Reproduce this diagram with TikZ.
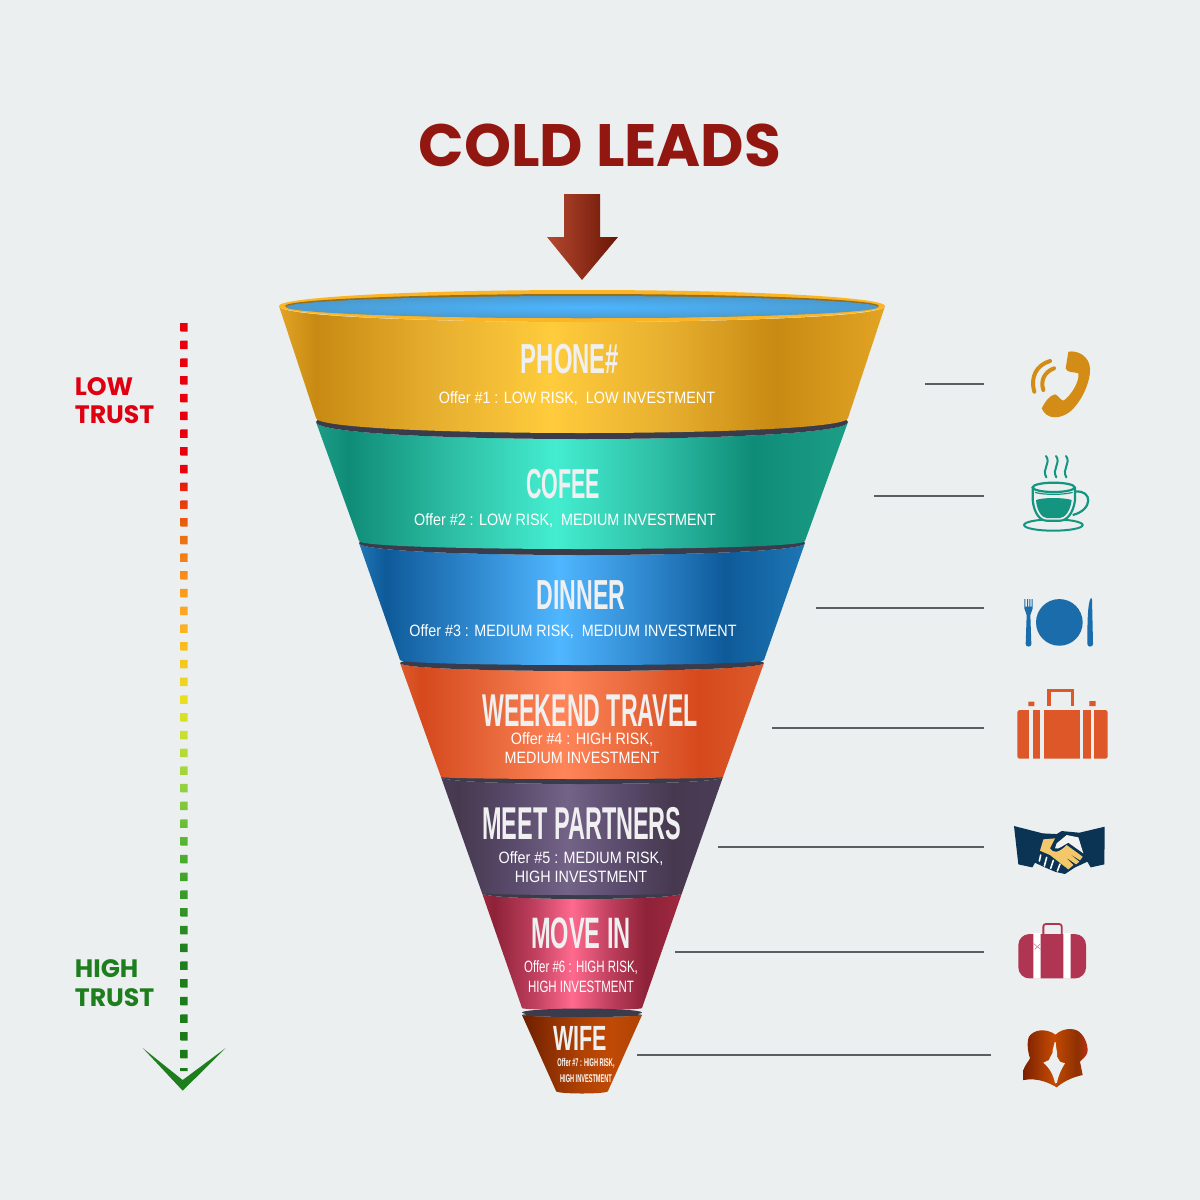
\documentclass[tikz,border=0pt]{standalone}
\usepackage{fontspec}
\setmainfont{Liberation Sans}
\newfontfamily\titlefont{Poppins}
\newfontfamily\headfont[FakeStretch=0.58]{Liberation Sans}
\newfontfamily\offerfont[FakeStretch=0.875]{Liberation Sans}
\newfontfamily\offernarrow[FakeStretch=0.7]{Liberation Sans}
\newfontfamily\offertiny[FakeStretch=0.5]{Liberation Sans}
\usetikzlibrary{positioning}
\definecolor{pagegray}{HTML}{EBEFEF}
\definecolor{coldred}{HTML}{921710}
\definecolor{arrowlight}{HTML}{B5482F}
\definecolor{arrowdark}{HTML}{6A1505}
\definecolor{ringdark}{HTML}{3B3C4B}
\definecolor{rimgold}{HTML}{FBB526}
\definecolor{lakelight}{HTML}{4DB5FF}
\definecolor{lakeedge}{HTML}{4A9BD0}
\definecolor{lowred}{HTML}{DE0010}
\definecolor{highgreen}{HTML}{1E7E1E}
\definecolor{leadgray}{HTML}{5A5D62}
\definecolor{icongold}{HTML}{D38D17}
\definecolor{iconteal}{HTML}{14957F}
\definecolor{iconblue}{HTML}{1A6CAB}
\definecolor{iconorange}{HTML}{DE5729}
\definecolor{iconnavy}{HTML}{0B3354}
\definecolor{iconyellow}{HTML}{F5C76B}
\definecolor{iconrose}{HTML}{B03552}
% Band shadings
\newcommand{\bandshade}[5]{%
  \definecolor{#1e}{HTML}{#2}\definecolor{#1d}{HTML}{#3}%
  \definecolor{#1m}{HTML}{#4}\definecolor{#1l}{HTML}{#5}%
  \pgfdeclarehorizontalshading{#1}{100bp}{color(0bp)=(#1e); color(25bp)=(#1e);
    color(28bp)=(#1d); color(38bp)=(#1m); color(47.5bp)=(#1l); color(57bp)=(#1m);
    color(66bp)=(#1d); color(75bp)=(#1e); color(100bp)=(#1e)}}
\bandshade{goldband}{E3A424}{C88A12}{E7AF2F}{FFCC3C}
\bandshade{tealband}{1C9E86}{0F8C78}{2EBFA6}{44EDCF}
\bandshade{blueband}{1E76B4}{0E5A99}{3089CF}{4FB6FF}
\bandshade{orangeband}{DD5A2B}{D5491D}{E8693C}{FF8559}
\bandshade{purpleband}{4A3C55}{46394F}{5A4B6C}{736387}
\bandshade{roseband}{9E2940}{8E2238}{BF3F5E}{FF6A8E}
\definecolor{cuA}{HTML}{6E1E00}\definecolor{cuB}{HTML}{8A2E02}
\definecolor{cuC}{HTML}{B04204}\definecolor{cuD}{HTML}{C04A05}
\pgfdeclarehorizontalshading{copperband}{100bp}{color(0bp)=(cuA); color(25bp)=(cuA);
  color(35bp)=(cuB); color(50bp)=(cuC); color(62bp)=(cuD); color(75bp)=(cuC); color(100bp)=(cuC)}
\definecolor{cpA}{HTML}{7A2000}\definecolor{cpB}{HTML}{C44A02}
\definecolor{cpC}{HTML}{8E3000}\definecolor{cpD}{HTML}{C0301A}
\pgfdeclarehorizontalshading{coupleshade}{100bp}{color(0bp)=(cpA); color(25bp)=(cpA);
  color(48bp)=(cpB); color(66bp)=(cpC); color(75bp)=(cpD); color(100bp)=(cpD)}
% Trust scale
\definecolor{trA}{HTML}{E8000E}\definecolor{trB}{HTML}{E86A10}\definecolor{trC}{HTML}{FFA020}
\definecolor{trD}{HTML}{F8C020}\definecolor{trE}{HTML}{E8E020}\definecolor{trF}{HTML}{C8E030}
\definecolor{trG}{HTML}{90D040}\definecolor{trH}{HTML}{50B030}\definecolor{trI}{HTML}{208020}
\definecolor{trJ}{HTML}{1A7A1A}
\pgfdeclareverticalshading{trustscale}{100bp}{color(0bp)=(trJ); color(26.4bp)=(trJ);
  color(33.1bp)=(trI); color(39.8bp)=(trH); color(43.8bp)=(trG); color(47.5bp)=(trF);
  color(49.8bp)=(trE); color(53.1bp)=(trD); color(56.5bp)=(trC); color(61.2bp)=(trB);
  color(65.2bp)=(trA); color(100bp)=(trA)}

\begin{document}
\begin{tikzpicture}[x=0.5pt, y=-0.5pt,
  bandhead/.style={text=white!94!black, inner sep=0pt, font=\headfont\bfseries\fontsize{21}{21}\selectfont},
  bandoffer/.style={text=white, inner sep=0pt, align=center, font=\offerfont\fontsize{8.2}{9.6}\selectfont},
  trustlabel/.style={inner sep=0pt, anchor=west, font=\titlefont\bfseries\fontsize{12.6}{12.6}\selectfont},
  leaderline/.style={draw=leadgray, line width=1pt}]

\useasboundingbox (0,0) rectangle (1200,1200);
\fill[pagegray] (0,0) rectangle (1200,1200);

% Title and arrow
\node[text=coldred, inner sep=0pt, font=\titlefont\bfseries\fontsize{29.9}{31}\selectfont] (title) at (600,145) {COLD LEADS};
\shade[left color=arrowlight, middle color=coldred, right color=arrowdark]
  (564,194) -- (600,194) -- (600,237) -- (618,237) -- (582,280) -- (547,237) -- (564,237) -- cycle;

% Funnel bands, bottom first
\foreach \xa/\ya/\ra/\xb/\yb/\rb/\shd in {522/1015/2/556/1091/2.5/copperband, 482/893/6/522/1008/2/roseband,
  441/777/7/482/893/2/purpleband, 400/663/8/441/777/2/orangeband, 359/543/12/400/660/5/blueband,
  316/422/17/359/541/8/tealband, 279/306/16/316/418/15/goldband} {
  \shade[shading=\shd] (\xa,\ya) .. controls (\xa,\ya+\ra*1.333) and (1164-\xa,\ya+\ra*1.333) .. (1164-\xa,\ya)
    -- (1164-\xb,\yb) .. controls (1164-\xb,\yb+\rb*1.333) and (\xb,\yb+\rb*1.333) .. (\xb,\yb) -- cycle;
  \ifnum\xa>279
    \fill[ringdark] (\xa,\ya) .. controls (\xa,\ya+\ra*1.333) and (1164-\xa,\ya+\ra*1.333) .. (1164-\xa,\ya)
      .. controls (1164-\xa,\ya-\ra*1.333) and (\xa,\ya-\ra*1.333) .. (\xa,\ya);
  \fi
}
% Small ring above the last band
\fill[ringdark] (582,1012.5) ellipse [x radius=60, y radius=4];
\shade[shading=copperband] (522,1015) .. controls (522,1018) and (642,1018) .. (642,1015) -- (630,1022) -- (534,1022) -- cycle;

% Rim
\fill[rimgold] (582,306) ellipse [x radius=303, y radius=16];
\fill[rimgold!60!black] (582,306) ellipse [x radius=297, y radius=12];
\shade[inner color=lakelight, outer color=lakeedge] (582,307) ellipse [x radius=296, y radius=11];

% Band texts
\foreach \i/\hx/\hy/\hs/\hw/\htxt/\ox/\oy/\otxt in {
  1/570/359/21/0.98/PHONE\#/577/399/{Offer \#1 : LOW RISK,\ \ LOW INVESTMENT},
  2/563/484/21/0.88/COFEE/565/521/{Offer \#2 : LOW RISK,\ \ MEDIUM INVESTMENT},
  3/581/595/21/0.95/DINNER/573/632/{Offer \#3 : MEDIUM RISK,\ \ MEDIUM INVESTMENT},
  4/590/711/23/0.867/WEEKEND TRAVEL/582/748/{Offer \#4 : HIGH RISK,\\MEDIUM INVESTMENT},
  5/582/824/23/0.88/MEET PARTNERS/581/867/{Offer \#5 : MEDIUM RISK,\\HIGH INVESTMENT}} {
  \node[bandhead, font=\headfont\bfseries\fontsize{\hs}{\hs}\selectfont] (head\i) at (\hx,\hy) {\scalebox{\hw}[1]{\htxt}};
  \node[bandoffer] (offer\i) at (\ox,\oy) {\otxt};
}
\node[bandhead, font=\headfont\bfseries\fontsize{22}{22}\selectfont] (head6) at (581,933) {\scalebox{0.925}[1]{MOVE IN}};
\node[bandoffer, font=\offernarrow\fontsize{8.2}{10}\selectfont] (offer6) at (581,977) {Offer \#6 : HIGH RISK,\\HIGH INVESTMENT};
\node[bandhead, font=\headfont\bfseries\fontsize{17.5}{17.5}\selectfont] (head7) at (580,1038) {\scalebox{1.06}[1]{WIFE}};
\node[bandoffer, font=\offertiny\bfseries\fontsize{5.6}{8}\selectfont] (offer7) at (586,1070) {Offer \#7 : HIGH RISK,\\HIGH INVESTMENT};

% Leaders
\foreach \i/\xs/\xe/\yl in {1/925/984/384, 2/874/984/496, 3/816/984/608, 4/772/984/728, 5/718/984/847, 6/675/984/952, 7/637/991/1055} {
  \coordinate (leadfrom\i) at (\xs,\yl);
  \coordinate (leadto\i) at (\xe,\yl);
  \draw[leaderline] (leadfrom\i) -- (leadto\i);
}

% Trust scale
\node[trustlabel, text=lowred] (lowtop) at (74.5,387) {LOW};
\node[trustlabel, text=lowred] (lowbot) at (74.5,415) {TRUST};
\node[trustlabel, text=highgreen] (hightop) at (74.5,969) {HIGH};
\node[trustlabel, text=highgreen] (highbot) at (74.5,998) {TRUST};
\shade[shading=trustscale] \foreach \k in {0,...,41} {(180.5,323+\k*17.73) rectangle ++(7,8.5)} (180.5,1068) rectangle (187.5,1071);
\fill[highgreen] (142.7,1048) -- (182.7,1080) -- (225.7,1048) -- (182.7,1090.7) -- cycle;

% Phone icon
\begin{scope}[shift={(1000,340)}, x=0.1667pt, y=-0.1667pt]
  \fill[icongold] (205,35) .. controls (235,30) and (268,50) .. (270,85) .. controls (272,125) and (245,185) .. (210,215)
    .. controls (180,238) and (140,240) .. (125,205) .. controls (135,185) and (150,165) .. (165,163)
    .. controls (175,165) and (180,180) .. (190,182) .. controls (210,170) and (240,125) .. (235,100)
    .. controls (225,95) and (200,100) .. (197,85) -- cycle;
  \draw[icongold, line width=2pt, line cap=round] (103,155) .. controls (90,110) and (110,75) .. (150,63);
  \draw[icongold, line width=2pt, line cap=round] (130,150) .. controls (120,120) and (135,95) .. (162,85);
\end{scope}

% Cup icon
\begin{scope}[shift={(1010,450)}, x=0.1667pt, y=-0.1667pt]
  \draw[iconteal, line width=1pt] (130,225) ellipse [x radius=88, y radius=17];
  \fill[pagegray] (68,112) -- (195,112) -- (195,150) .. controls (190,190) and (170,212) .. (150,212) -- (110,212) .. controls (90,212) and (72,190) .. (68,150) -- cycle;
  \draw[iconteal, line width=1.1pt] (68,112) -- (68,150) .. controls (72,190) and (90,212) .. (110,212) -- (150,212) .. controls (170,212) and (190,190) .. (195,150) -- (195,112);
  \draw[iconteal, line width=1.1pt] (131,112) ellipse [x radius=63, y radius=14];
  \draw[iconteal, line width=1.1pt] (195,125) .. controls (248,118) and (250,180) .. (188,195);
  \draw[iconteal, line width=0.6pt] (75,127) .. controls (100,135) and (160,135) .. (188,127);
  \fill[iconteal] (78,150) .. controls (100,142) and (160,142) .. (185,150) .. controls (182,180) and (165,204) .. (150,204) -- (110,204) .. controls (95,204) and (80,180) .. (78,150) -- cycle;
  \foreach \sx in {108,138,168} {
    \draw[iconteal, line width=1pt, line cap=round] (\sx,18) .. controls (\sx+16,38) and (\sx-14,58) .. (\sx+1,82);
  }
\end{scope}

% Plate icon
\begin{scope}[shift={(1000,340)}, x=0.1667pt, y=-0.1667pt]
  \fill[iconblue] (178,847) circle [radius=70];
  \fill[iconblue] (73,777) -- (76,777) -- (76,800) -- (81,800) -- (81,777) -- (84,777) -- (84,800) -- (88,800) -- (88,777) -- (91,777) -- (91,800) -- (95,800) -- (95,777) -- (98,777) -- (98,805)
    .. controls (98,815) and (91,815) .. (91,825) -- (94,912) .. controls (94,922) and (77,922) .. (77,912) -- (80,825) .. controls (80,815) and (73,815) .. (73,805) -- cycle;
  \fill[iconblue] (272,775) .. controls (262,790) and (262,860) .. (262,912) .. controls (262,922) and (279,922) .. (279,912) -- (276,780) .. controls (276,774) and (274,773) .. (272,775) -- cycle;
\end{scope}

% Suitcase icon
\begin{scope}[shift={(1000,680)}, x=0.1667pt, y=-0.1667pt]
  \fill[iconorange, rounded corners=1.2pt] (52,90) rectangle (323,236);
  \foreach \sx in {88,121,240,272} {
    \fill[pagegray] (\sx,86) rectangle (\sx+10,240);
  }
  \draw[iconorange, line width=1.6pt] (147,78) -- (147,32) -- (218,32) -- (218,78);
  \fill[iconorange] (85,65) rectangle (103,78) (268,63) rectangle (287,78);
\end{scope}

% Handshake icon
\begin{scope}[shift={(1000,680)}, x=0.1667pt, y=-0.1667pt]
  \fill[iconnavy] (42,438) -- (128,460) -- (170,462) -- (185,453) -- (238,458) -- (314,440) -- (313,553) -- (272,562) -- (262,545) -- (225,562) -- (195,582) -- (165,575) -- (130,560) -- (105,548) -- (97,562) -- (55,553) -- cycle;
  \fill[iconyellow] (130,478) -- (165,475) -- (150,505) .. controls (160,520) and (175,520) .. (200,495) -- (248,530) -- (240,541) -- (205,518) -- (238,545) -- (228,553) -- (195,530) -- (220,555) -- (205,568) -- (150,525) -- (120,512) -- cycle;
  \fill[white!95!black] (170,490) -- (200,465) -- (235,472) -- (250,520) -- (205,488) .. controls (190,495) and (175,510) .. (165,505) -- cycle;
  \foreach \ax/\ay/\bx/\by in {122/525/118/543, 140/532/133/558, 160/541/152/565, 180/552/172/573} {
    \draw[white, line width=0.8pt, line cap=round] (\ax,\ay) -- (\bx,\by);
  }
\end{scope}

% Red suitcase icon
\begin{scope}[shift={(1000,680)}, x=0.1667pt, y=-0.1667pt]
  \fill[iconrose, rounded corners=5.5pt] (55,762) rectangle (258,895);
  \fill[white] (100,759) rectangle (122,896) (190,759) rectangle (212,896);
  \draw[iconrose, line width=0.9pt, rounded corners=1.2pt] (130,762) -- (130,732) -- (185,732) -- (185,762);
  \draw[iconrose!60!white, line width=0.3pt] (100,790) -- (122,808) (104,808) -- (120,792);
\end{scope}

% Couple icon
\begin{scope}[shift={(1015,1020)}, x=0.1667pt, y=-0.1667pt]
  \shade[shading=coupleshade] (25,180) -- (25,150) .. controls (30,135) and (40,125) .. (45,115) .. controls (38,95) and (35,65) .. (42,50)
    .. controls (55,30) and (90,22) .. (122,44) .. controls (140,25) and (175,22) .. (192,35)
    .. controls (212,50) and (222,85) .. (216,100) .. controls (212,112) and (200,118) .. (195,125) -- (203,165)
    .. controls (180,170) and (150,180) .. (125,202) .. controls (105,190) and (70,172) .. (25,180) -- cycle;
  \fill[pagegray] (119,66) -- (122,66) .. controls (122,80) and (128,100) .. (126,110) -- (135,125) -- (150,130)
    .. controls (140,145) and (130,165) .. (126,188) -- (120,190) .. controls (115,165) and (105,145) .. (85,128)
    -- (102,120) .. controls (105,108) and (116,100) .. (113,90) -- cycle;
\end{scope}

\end{tikzpicture}
\end{document}
